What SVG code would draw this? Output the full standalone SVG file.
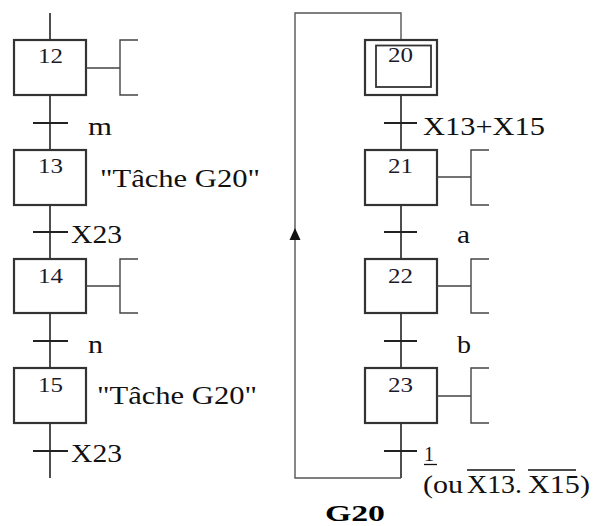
<svg xmlns="http://www.w3.org/2000/svg" width="593" height="526" viewBox="0 0 593 526">
<style>
  .step { fill: #fff; stroke: #333; stroke-width: 2.2; }
  .link { fill: none; stroke: #222; stroke-width: 1.6; }
  .bar { stroke: #222; stroke-width: 2; }
  .act { fill: none; stroke: #444; stroke-width: 1.4; }
  .loop { fill: none; stroke: #555; stroke-width: 1.4; }
  .num { font-family: "Liberation Serif", "Times New Roman", serif; font-size: 21px; fill: #1a1a2a; }
  .lbl { font-family: "Liberation Serif", "Times New Roman", serif; font-size: 25px; fill: #111; }
  .title { font-family: "Liberation Serif", "Times New Roman", serif; font-size: 24px; font-weight: bold; fill: #000; }
</style>
<rect width="593" height="526" fill="#fff"/>

<g id="connectors">
  <line class="link" x1="50" y1="13" x2="50" y2="40"/>
  <line class="link" x1="50" y1="95" x2="50" y2="150"/>
  <line class="link" x1="50" y1="205" x2="50" y2="259"/>
  <line class="link" x1="50" y1="313" x2="50" y2="368"/>
  <line class="link" x1="50" y1="423" x2="50" y2="478"/>
  <line class="bar" x1="33" y1="123" x2="68" y2="123"/>
  <line class="bar" x1="33" y1="232" x2="68" y2="232"/>
  <line class="bar" x1="33" y1="341" x2="68" y2="341"/>
  <line class="bar" x1="33" y1="451" x2="68" y2="451"/>
  <line class="link" x1="401" y1="95" x2="401" y2="150"/>
  <line class="link" x1="401" y1="205" x2="401" y2="259"/>
  <line class="link" x1="401" y1="313" x2="401" y2="368"/>
  <line class="link" x1="401" y1="423" x2="401" y2="478"/>
  <path class="loop" d="M401,40 V13 H295 V478 H401"/>
  <polygon points="295,228 289.5,240 300.5,240" fill="#111"/>
  <line class="bar" x1="384" y1="123" x2="417" y2="123"/>
  <line class="bar" x1="384" y1="232" x2="417" y2="232"/>
  <line class="bar" x1="384" y1="341" x2="417" y2="341"/>
  <line class="bar" x1="384" y1="451" x2="417" y2="451"/>
</g>

<g id="transition-labels">
  <text class="lbl" x="88" y="135" textLength="24" lengthAdjust="spacingAndGlyphs">m</text>
  <text class="lbl" x="71" y="243" textLength="51" lengthAdjust="spacingAndGlyphs">X23</text>
  <text class="lbl" x="88" y="353" textLength="15" lengthAdjust="spacingAndGlyphs">n</text>
  <text class="lbl" x="71" y="462" textLength="51" lengthAdjust="spacingAndGlyphs">X23</text>
  <text class="lbl" x="423" y="135" textLength="122" lengthAdjust="spacingAndGlyphs">X13+X15</text>
  <text class="lbl" x="457" y="243" textLength="13" lengthAdjust="spacingAndGlyphs">a</text>
  <text class="lbl" x="457" y="353" textLength="14" lengthAdjust="spacingAndGlyphs">b</text>
  <text class="lbl" x="424" y="461" style="font-size:21px" textLength="10" lengthAdjust="spacingAndGlyphs">1</text>
  <line x1="424" y1="464.5" x2="437" y2="464.5" stroke="#111" stroke-width="1.3"/>
  <text class="lbl" y="493"><tspan x="423" textLength="40" lengthAdjust="spacingAndGlyphs">(ou</tspan> <tspan x="467" textLength="55" lengthAdjust="spacingAndGlyphs">X13.</tspan> <tspan x="528" textLength="62" lengthAdjust="spacingAndGlyphs">X15)</tspan></text>
  <line x1="467" y1="470" x2="515" y2="470" stroke="#111" stroke-width="1.3"/>
  <line x1="528" y1="470" x2="576" y2="470" stroke="#111" stroke-width="1.3"/>
</g>

<g id="step12">
  <rect class="step" x="14" y="40" width="72" height="55"/>
  <text class="num" x="38" y="63" textLength="25" lengthAdjust="spacingAndGlyphs">12</text>
  <path class="act" d="M86,68 H120 M138,40 H120 V95 H138"/>
</g>
<g id="step13">
  <rect class="step" x="14" y="150" width="72" height="55"/>
  <text class="num" x="38" y="173" textLength="25" lengthAdjust="spacingAndGlyphs">13</text>
  <text class="lbl" x="100" y="187" textLength="160" lengthAdjust="spacingAndGlyphs">"Tâche G20"</text>
</g>
<g id="step14">
  <rect class="step" x="14" y="259" width="72" height="54"/>
  <text class="num" x="38" y="283" textLength="25" lengthAdjust="spacingAndGlyphs">14</text>
  <path class="act" d="M86,286 H120 M138,259 H120 V313 H138"/>
</g>
<g id="step15">
  <rect class="step" x="14" y="368" width="72" height="55"/>
  <text class="num" x="38" y="392" textLength="25" lengthAdjust="spacingAndGlyphs">15</text>
  <text class="lbl" x="97" y="404" textLength="160" lengthAdjust="spacingAndGlyphs">"Tâche G20"</text>
</g>

<g id="step20">
  <rect class="step" x="365" y="40" width="72" height="55"/>
  <rect class="step" x="376" y="45.5" width="55" height="41.5" style="stroke-width:1.8"/>
  <text class="num" x="388" y="62" textLength="25" lengthAdjust="spacingAndGlyphs">20</text>
</g>
<g id="step21">
  <rect class="step" x="365" y="150" width="72" height="55"/>
  <text class="num" x="388" y="173" textLength="25" lengthAdjust="spacingAndGlyphs">21</text>
  <path class="act" d="M437,177 H471 M489,150 H471 V205 H489"/>
</g>
<g id="step22">
  <rect class="step" x="365" y="259" width="72" height="54"/>
  <text class="num" x="388" y="283" textLength="25" lengthAdjust="spacingAndGlyphs">22</text>
  <path class="act" d="M437,286 H471 M489,259 H471 V313 H489"/>
</g>
<g id="step23">
  <rect class="step" x="365" y="368" width="72" height="55"/>
  <text class="num" x="388" y="392" textLength="25" lengthAdjust="spacingAndGlyphs">23</text>
  <path class="act" d="M437,396 H471 M489,368 H471 V423 H489"/>
</g>

<g id="title">
  <text class="title" x="325" y="521" textLength="60" lengthAdjust="spacingAndGlyphs">G20</text>
</g>
</svg>
